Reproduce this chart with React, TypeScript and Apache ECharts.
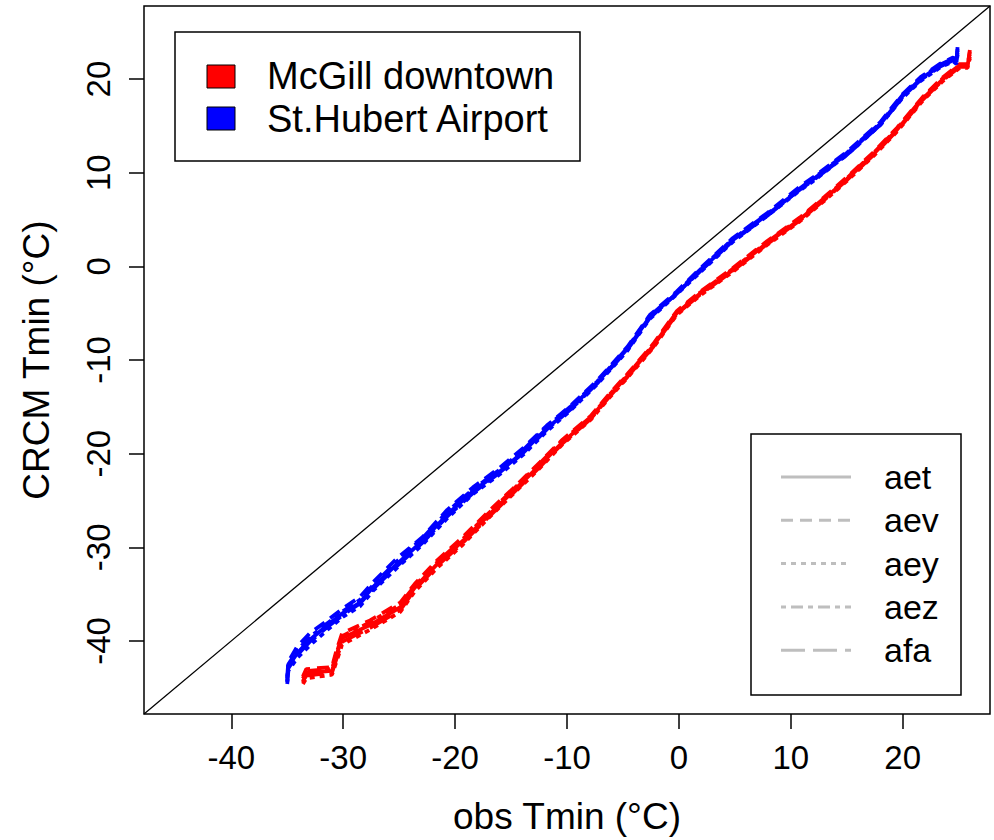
import React, { useEffect, useRef } from "react";
import * as echarts from "echarts";

// ---- axis ----
const AXIS_MIN = -47.8;
const AXIS_MAX = 27.8;
const TICKS = [-40, -30, -20, -10, 0, 10, 20];
const X_TITLE = "obs Tmin (°C)";
const Y_TITLE = "CRCM Tmin (°C)";

// ---- stations ----
const STATIONS = ["McGill downtown", "St.Hubert Airport"];
const STATION_COLORS = ["#ff0000", "#0000ff"];
const RUNS = ["aet", "aev", "aey", "aez", "afa"];

// ---- McGill downtown: obs quantiles and CRCM quantiles per run ----
const mcgillObs = [-33.6, -33.3, -31.0, -30.6, -30.1, -27.6, -24.9, -23.6, -21.6, -19.3, -17.2, -14.8, -12.4, -10.4, -7.9, -6.2, -4.6, -2.3, -0.2, 1.9, 4.8, 7.9, 10.8, 13.0, 15.0, 17.4, 19.5, 21.8, 23.6, 25.1, 25.8, 26.0];
const mcgillAet = [-44.4, -43.4, -43.2, -41.5, -39.7, -38.3, -36.4, -34.3, -31.8, -29.3, -26.8, -24.0, -21.2, -18.8, -16.2, -13.8, -11.7, -8.5, -5.0, -2.9, -0.4, 2.5, 5.0, 7.2, 9.3, 12.0, 14.6, 17.9, 20.0, 21.4, 21.4, 23.1];
const mcgillAev = [-43.8, -43.0, -42.8, -41.0, -39.2, -37.8, -35.9, -33.9, -31.4, -28.9, -26.4, -23.7, -20.9, -18.5, -16.0, -13.6, -11.5, -8.3, -4.8, -2.7, -0.2, 2.7, 5.2, 7.4, 9.5, 12.2, 14.8, 18.1, 20.2, 21.6, 21.6, 22.6];
const mcgillAey = [-44.6, -44.0, -43.6, -42.2, -40.4, -38.8, -36.9, -34.7, -32.2, -29.7, -27.1, -24.3, -21.5, -19.0, -16.4, -14.0, -11.9, -8.7, -5.2, -3.1, -0.6, 2.3, 4.8, 7.0, 9.1, 11.8, 14.4, 17.7, 19.8, 21.2, 21.2, 22.4];
const mcgillAez = [-44.0, -43.2, -43.0, -41.3, -39.5, -38.0, -36.1, -34.1, -31.6, -29.1, -26.6, -23.8, -21.0, -18.6, -16.1, -13.7, -11.6, -8.4, -4.9, -2.8, -0.3, 2.6, 5.1, 7.3, 9.4, 12.1, 14.7, 18.0, 20.1, 21.5, 21.5, 22.9];
const mcgillAfa = [-44.3, -43.7, -43.4, -41.9, -40.1, -38.6, -36.7, -34.5, -32.0, -29.5, -27.0, -24.2, -21.4, -18.9, -16.3, -13.9, -11.8, -8.6, -5.1, -3.0, -0.5, 2.4, 4.9, 7.1, 9.2, 11.9, 14.5, 17.8, 19.9, 21.3, 21.3, 22.2];

// ---- St.Hubert Airport ----
const hubertObs = [-35.0, -34.9, -34.1, -33.0, -31.5, -30.0, -28.5, -27.3, -25.2, -22.9, -20.7, -18.4, -16.0, -13.9, -11.8, -9.7, -7.3, -4.6, -2.6, -0.2, 2.2, 4.8, 7.9, 10.8, 12.0, 15.0, 18.0, 20.0, 21.6, 23.3, 24.5, 24.8, 24.9];
const hubertAet = [-44.3, -42.7, -41.3, -39.9, -38.4, -37.0, -35.9, -34.2, -31.8, -29.3, -26.5, -24.0, -21.9, -19.8, -17.3, -15.2, -12.4, -8.8, -5.4, -2.9, -0.1, 2.8, 5.5, 8.2, 9.3, 12.0, 15.2, 18.2, 20.0, 21.4, 22.1, 21.8, 23.4];
const hubertAev = [-43.8, -42.2, -40.6, -39.2, -37.9, -36.5, -35.3, -33.7, -31.2, -28.9, -26.0, -23.6, -21.5, -19.4, -17.0, -14.9, -12.2, -8.6, -5.2, -2.7, 0.1, 3.0, 5.7, 8.5, 9.5, 12.2, 15.4, 18.4, 20.2, 21.6, 22.3, 22.0, 23.0];
const hubertAey = [-44.6, -43.2, -41.8, -40.5, -38.9, -37.4, -36.3, -34.6, -32.2, -29.7, -26.9, -24.3, -22.2, -20.1, -17.6, -15.4, -12.6, -9.0, -5.6, -3.0, -0.3, 2.6, 5.4, 8.1, 9.1, 11.9, 15.1, 18.0, 19.8, 21.2, 21.9, 21.6, 22.6];
const hubertAez = [-44.0, -42.5, -41.0, -39.6, -38.2, -36.8, -35.6, -34.0, -31.5, -29.0, -26.2, -23.8, -21.7, -19.6, -17.1, -15.0, -12.3, -8.7, -5.3, -2.8, 0.0, 2.9, 5.6, 8.3, 9.4, 12.1, 15.3, 18.3, 20.1, 21.5, 22.2, 21.9, 23.2];
const hubertAfa = [-44.4, -42.9, -41.5, -40.1, -38.6, -37.2, -36.0, -34.4, -32.0, -29.5, -26.7, -24.2, -22.0, -19.9, -17.4, -15.3, -12.5, -8.9, -5.5, -2.9, -0.2, 2.7, 5.4, 8.2, 9.2, 11.9, 15.1, 18.1, 19.9, 21.3, 22.0, 21.7, 22.8];

const DASHES: any[] = ["solid", [12, 7], [5, 5], [5, 5, 12, 5], [24, 8]];

const FONT = "'Liberation Sans', Arial, Helvetica, sans-serif";

export default function App() {
  const ref = useRef<HTMLDivElement>(null);

  useEffect(() => {
    if (!ref.current) return;
    const chart = echarts.init(ref.current, undefined, { renderer: "svg" });

    const stationData = [
      { obs: mcgillObs, runs: [mcgillAet, mcgillAev, mcgillAey, mcgillAez, mcgillAfa] },
      { obs: hubertObs, runs: [hubertAet, hubertAev, hubertAey, hubertAez, hubertAfa] },
    ];

    const series: any[] = [
      {
        name: "1:1",
        type: "line",
        data: [
          [AXIS_MIN, AXIS_MIN],
          [AXIS_MAX, AXIS_MAX],
        ],
        symbol: "none",
        lineStyle: { color: "#000", width: 1.3 },
        z: 1,
        silent: true,
      },
    ];
    stationData.forEach((st, si) => {
      st.runs.forEach((ys, ri) => {
        series.push({
          name: STATIONS[si] + " " + RUNS[ri],
          type: "line",
          data: st.obs.map((x, i) => [x, ys[i]]),
          symbol: "none",
          lineStyle: { color: STATION_COLORS[si], width: 3.8, type: DASHES[ri] },
          z: 2 + si,
        });
      });
    });

    const gridLeft = 144;
    const gridTop = 6;
    const gridW = 846;
    const gridH = 716;

    const legend2Rows = RUNS.map((r, i) => {
      const y = 477 + i * 43.3;
      return [
        {
          type: "line",
          shape: { x1: 781, y1: y, x2: 851, y2: y },
          style: {
            stroke: "#bebebe",
            lineWidth: 3,
            lineDash: DASHES[i] === "solid" ? null : DASHES[i],
          },
        },
        {
          type: "text",
          x: 884,
          y: y,
          style: {
            text: r,
            font: `34px ${FONT}`,
            fill: "#000",
            verticalAlign: "middle",
          },
        },
      ];
    }).flat();

    chart.setOption({
      animation: false,
      backgroundColor: "#fff",
      grid: {
        left: gridLeft,
        top: gridTop,
        width: gridW,
        height: gridH,
        show: true,
        borderColor: "#000",
        borderWidth: 1.5,
        backgroundColor: "transparent",
      },
      xAxis: {
        type: "value",
        min: AXIS_MIN,
        max: AXIS_MAX,
        name: X_TITLE,
        nameLocation: "middle",
        nameGap: 84,
        nameTextStyle: { fontSize: 37, color: "#000", fontFamily: FONT },
        axisLine: { show: false, onZero: false },
        splitLine: { show: false },
        axisTick: {
          show: true,
          length: 15,
          customValues: TICKS,
          lineStyle: { color: "#000", width: 1.5 },
        },
        axisLabel: {
          customValues: TICKS,
          fontSize: 33,
          color: "#000",
          fontFamily: FONT,
          margin: 27,
        },
      },
      yAxis: {
        type: "value",
        min: AXIS_MIN,
        max: AXIS_MAX,
        name: Y_TITLE,
        nameLocation: "middle",
        nameGap: 89,
        nameTextStyle: { fontSize: 37, color: "#000", fontFamily: FONT },
        axisLine: { show: false, onZero: false },
        splitLine: { show: false },
        axisTick: {
          show: true,
          length: 15,
          customValues: TICKS,
          lineStyle: { color: "#000", width: 1.5 },
        },
        axisLabel: {
          customValues: TICKS,
          rotate: 90,
          fontSize: 33,
          color: "#000",
          fontFamily: FONT,
          margin: 29,
        },
      },
      series,
      graphic: [
        {
          type: "rect",
          shape: { x: 175, y: 32, width: 405, height: 129 },
          style: { fill: "#fff", stroke: "#000", lineWidth: 1.5 },
          z: 10,
        },
        {
          type: "rect",
          shape: { x: 207, y: 65, width: 28, height: 23 },
          style: { fill: STATION_COLORS[0], stroke: "#000", lineWidth: 1 },
          z: 11,
        },
        {
          type: "rect",
          shape: { x: 207, y: 107, width: 28, height: 23 },
          style: { fill: STATION_COLORS[1], stroke: "#000", lineWidth: 1 },
          z: 11,
        },
        {
          type: "text",
          x: 267,
          y: 76,
          style: { text: STATIONS[0], font: `38px ${FONT}`, fill: "#000", verticalAlign: "middle" },
          z: 11,
        },
        {
          type: "text",
          x: 267,
          y: 119,
          style: { text: STATIONS[1], font: `38px ${FONT}`, fill: "#000", verticalAlign: "middle" },
          z: 11,
        },
        {
          type: "rect",
          shape: { x: 751, y: 434, width: 210, height: 261 },
          style: { fill: "#fff", stroke: "#000", lineWidth: 1.5 },
          z: 10,
        },
        ...legend2Rows.map((e: any) => ({ ...e, z: 11 })),
      ],
    });

    return () => chart.dispose();
  }, []);

  return (
    <div
      ref={ref}
      style={{ position: "absolute", left: 0, top: 0, width: 994, height: 840, background: "#fff" }}
    />
  );
}
